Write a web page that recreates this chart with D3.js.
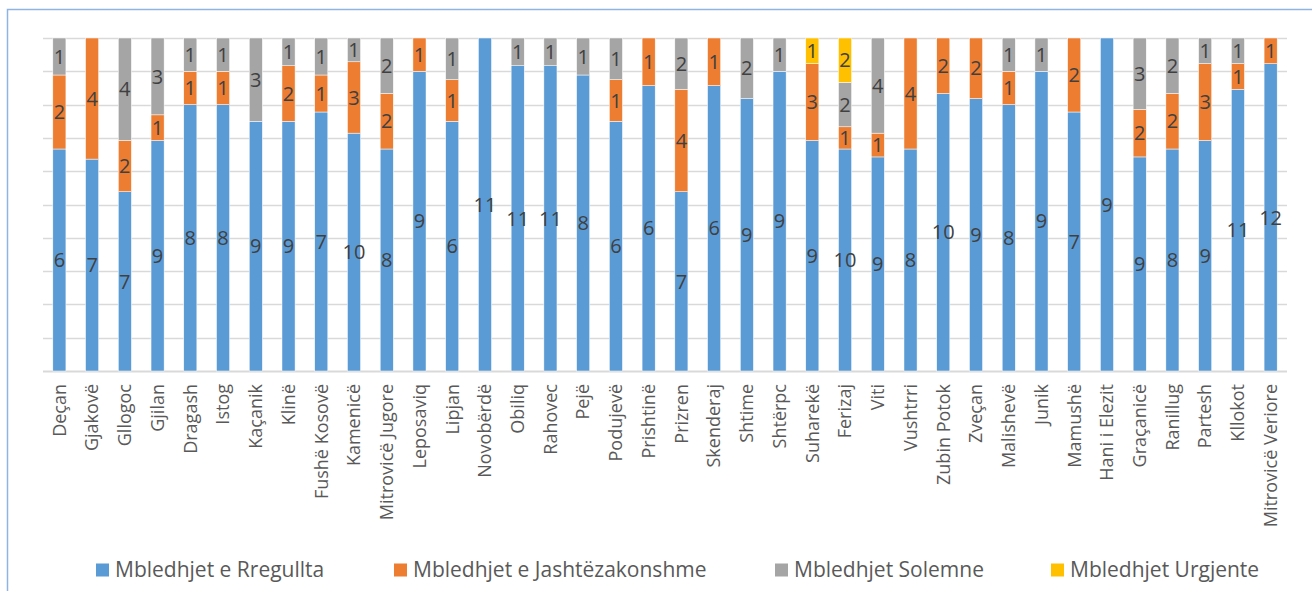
<!DOCTYPE html>
<html>
<head>
<meta charset="utf-8">
<script src="https://cdn.jsdelivr.net/npm/d3@7"></script>
<style>
  body { margin: 0; background: #fff; }
  #chart { width: 1312px; height: 591px; }
  text { font-family: "Open Sans", "Noto Sans", sans-serif; }
</style>
</head>
<body>
<div id="chart"></div>
<script>
// municipalities (x axis)
const categories = ["Deçan","Gjakovë","Gllogoc","Gjilan","Dragash","Istog","Kaçanik","Klinë","Fushë Kosovë","Kamenicë",
  "Mitrovicë Jugore","Leposaviq","Lipjan","Novobërdë","Obiliq","Rahovec","Pejë","Podujevë","Prishtinë","Prizren",
  "Skenderaj","Shtime","Shtërpc","Suharekë","Ferizaj","Viti","Vushtrri","Zubin Potok","Zveçan","Malishevë",
  "Junik","Mamushë","Hani i Elezit","Graçanicë","Ranillug","Partesh","Kllokot","Mitrovicë Veriore"];

// counts of sessions per type
const rregullta      = [6,7,7,9,8,8,9,9,7,10, 8,9,6,11,11,11,8,6,6,7, 6,9,9,9,10,9,8,10,9,8, 9,7,9,9,8,9,11,12];
const jashtezakonshme= [2,4,2,1,1,1,0,2,1,3, 2,1,1,0,0,0,0,1,1,4, 1,0,0,3,1,1,4,2,2,1, 0,2,0,2,2,3,1,1];
const solemne        = [1,0,4,3,1,1,3,1,1,1, 2,0,1,0,1,1,1,1,0,2, 0,2,1,0,2,4,0,0,0,1, 1,0,0,3,2,1,1,0];
const urgjente       = [0,0,0,0,0,0,0,0,0,0, 0,0,0,0,0,0,0,0,0,0, 0,0,0,1,2,0,0,0,0,0, 0,0,0,0,0,0,0,0];

const seriesNames = ["Mbledhjet e Rregullta","Mbledhjet e Jashtëzakonshme","Mbledhjet Solemne","Mbledhjet Urgjente"];
const seriesKeys = ["r","j","s","u"];
const colors = ["#5b9bd5","#ed7d31","#a5a5a5","#ffc000"];

const W = 1312, H = 591;
const margin = {top: 38, right: 25, bottom: 220, left: 43};

// build rows for the stack
const rows = categories.map((c, i) => ({cat: c, r: rregullta[i], j: jashtezakonshme[i], s: solemne[i], u: urgjente[i]}));

const stack = d3.stack().keys(seriesKeys).offset(d3.stackOffsetExpand);
const stacked = stack(rows);

const svg = d3.select("#chart").append("svg")
  .attr("width", W)
  .attr("height", H);

// outer border
svg.append("rect")
  .attr("x", 7.5).attr("y", 9.5)
  .attr("width", W - 2).attr("height", H)
  .attr("fill", "none")
  .attr("stroke", "#8eb4e3")
  .attr("stroke-width", 1.5);

const x = d3.scaleBand()
  .domain(categories)
  .range([margin.left, W - margin.right])
  .paddingInner(0.6)
  .paddingOuter(0.3);

const y = d3.scaleLinear()
  .domain([0, 1])
  .range([H - margin.bottom, margin.top]);

// gridlines
svg.append("g")
  .selectAll("line")
  .data(d3.range(0, 1.0001, 0.1))
  .enter()
  .append("line")
  .attr("x1", margin.left)
  .attr("x2", W - margin.right)
  .attr("y1", d => Math.round(y(d)) + 0.5)
  .attr("y2", d => Math.round(y(d)) + 0.5)
  .attr("stroke", "#d9d9d9")
  .attr("stroke-width", d => d === 0 ? 2 : 1.5);

// bars
const layers = svg.append("g")
  .selectAll("g")
  .data(stacked)
  .enter()
  .append("g")
  .attr("fill", (d, i) => colors[i]);

layers.selectAll("rect")
  .data(d => d)
  .enter()
  .append("rect")
  .attr("x", d => x(d.data.cat))
  .attr("width", x.bandwidth())
  .attr("y", d => y(d[1]))
  .attr("height", d => y(d[0]) - y(d[1]))
  .attr("stroke", "#ffffff")
  .attr("stroke-width", 0.5);

// data labels
layers.each(function(layer) {
  const key = layer.key;
  d3.select(this).selectAll("text")
    .data(layer.filter(d => d.data[key] > 0))
    .enter()
    .append("text")
    .attr("x", d => x(d.data.cat) + x.bandwidth() / 2)
    .attr("y", d => (y(d[0]) + y(d[1])) / 2)
    .attr("dy", "0.36em")
    .attr("text-anchor", "middle")
    .attr("fill", "#404040")
    .attr("font-size", 20)
    .text(d => d.data[key]);
});

// x axis labels
const xAxis = d3.axisBottom(x).tickSize(0).tickPadding(0);
const gx = svg.append("g")
  .attr("transform", `translate(0,${H - margin.bottom})`)
  .call(xAxis);
gx.select(".domain").remove();
gx.selectAll("text")
  .attr("font-family", "\"Open Sans\", sans-serif")
  .attr("font-size", 18)
  .attr("fill", "#595959")
  .attr("text-anchor", "end")
  .attr("transform", "rotate(-90)")
  .attr("x", -13)
  .attr("y", 0)
  .attr("dy", "0.35em");

// legend
const legendX = [96, 394, 775, 1051];
const legend = svg.append("g")
  .selectAll("g")
  .data(seriesNames)
  .enter()
  .append("g")
  .attr("transform", (d, i) => `translate(${legendX[i]},570)`);

legend.append("rect")
  .attr("x", 0).attr("y", -6.5)
  .attr("width", 13).attr("height", 13)
  .attr("fill", (d, i) => colors[i]);

legend.append("text")
  .attr("x", 19)
  .attr("y", 0)
  .attr("dy", "0.35em")
  .attr("font-size", 21)
  .attr("fill", "#595959")
  .text(d => d);
</script>
</body>
</html>
